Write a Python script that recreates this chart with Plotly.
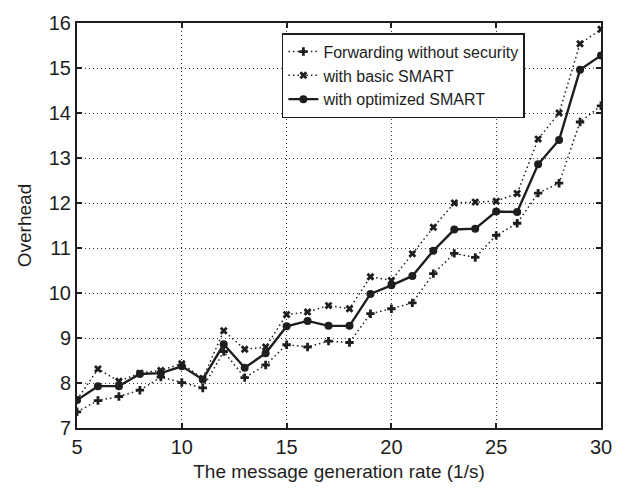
import plotly.graph_objects as go

rate = list(range(5, 31))
no_security = [7.36, 7.61, 7.70, 7.84, 8.13, 8.01, 7.89, 8.70, 8.12, 8.40, 8.85, 8.80, 8.93, 8.90,
               9.54, 9.65, 9.78, 10.43, 10.88, 10.79, 11.28, 11.55, 12.22, 12.44, 13.80, 14.16]
basic_smart = [7.63, 8.31, 8.04, 8.22, 8.28, 8.43, 8.10, 9.16, 8.75, 8.80, 9.52, 9.58, 9.72, 9.65,
               10.36, 10.28, 10.87, 11.46, 12.00, 12.02, 12.04, 12.21, 13.42, 14.00, 15.54, 15.86]
opt_smart = [7.62, 7.93, 7.93, 8.20, 8.22, 8.37, 8.08, 8.86, 8.34, 8.66, 9.26, 9.38, 9.27, 9.27,
             9.98, 10.17, 10.38, 10.94, 11.41, 11.43, 11.81, 11.80, 12.86, 13.40, 14.96, 15.28]

ink = "#1e1e1e"
font = "Liberation Sans, Arial, sans-serif"

fig = go.Figure()
fig.add_trace(go.Scatter(x=rate, y=no_security, mode="lines+markers", name="Forwarding without security",
                         line=dict(color=ink, width=1.5, dash="1.5px,3px"),
                         marker=dict(symbol="cross", size=7, color=ink)))
fig.add_trace(go.Scatter(x=rate, y=basic_smart, mode="lines+markers", name="with basic SMART",
                         line=dict(color=ink, width=1.5, dash="1.5px,3px"),
                         marker=dict(symbol="x", size=7, color=ink)))
fig.add_trace(go.Scatter(x=rate, y=opt_smart, mode="lines+markers", name="with optimized SMART",
                         line=dict(color=ink, width=2.4),
                         marker=dict(symbol="circle", size=8, color=ink)))

axis_common = dict(showline=True, linecolor=ink, linewidth=2, mirror="ticks", ticks="inside",
                   ticklen=5, tickwidth=1.5, tickcolor=ink, showgrid=True, gridcolor="#333", gridwidth=1,
                   griddash="1px,3px", zeroline=False, tickfont=dict(size=20, color=ink, family=font))

fig.update_xaxes(range=[5, 30], tickvals=[5, 10, 15, 20, 25, 30], **axis_common,
                 title=dict(text="The message generation rate (1/s)", font=dict(size=19, color=ink, family=font),
                            standoff=8))
fig.update_yaxes(range=[7, 16], dtick=1, **axis_common,
                 title=dict(text="Overhead", font=dict(size=19, color=ink, family=font), standoff=12))

fig.update_layout(
    width=625, height=491,
    margin=dict(l=77, r=24, t=19, b=59),
    plot_bgcolor="white", paper_bgcolor="white",
    font=dict(family=font, color=ink),
    legend=dict(x=0.391, y=0.975, xanchor="left", yanchor="top", bgcolor="white",
                bordercolor=ink, borderwidth=1.5, font=dict(size=16, color=ink, family=font),
                tracegroupgap=0, itemwidth=30),
    showlegend=True,
)

fig.write_html("out.html")
